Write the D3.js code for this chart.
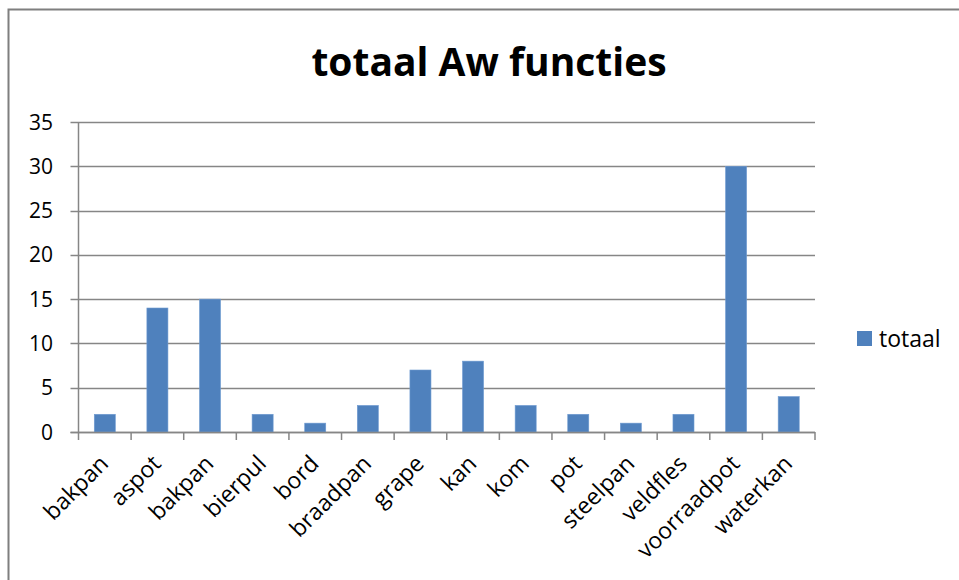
<!DOCTYPE html>
<html>
<head>
<meta charset="utf-8">
<script src="https://cdn.jsdelivr.net/npm/d3@7"></script>
<style>
  html, body { margin: 0; padding: 0; background: #fff; }
  svg { display: block; }
  text { font-family: "Open Sans", "Noto Sans", sans-serif; fill: #000; }
</style>
</head>
<body>
<svg id="chart" width="959" height="580"></svg>
<script>
const title = "totaal Aw functies";
const categories = ["bakpan", "aspot", "bakpan", "bierpul", "bord", "braadpan", "grape", "kan", "kom", "pot", "steelpan", "veldfles", "voorraadpot", "waterkan"];
const values = [2, 14, 15, 2, 1, 3, 7, 8, 3, 2, 1, 2, 30, 4];
const yTicks = [0, 5, 10, 15, 20, 25, 30, 35];
const seriesName = "totaal";

const svg = d3.select("#chart");
const plot = { left: 78.5, right: 815, top: 122, bottom: 432 };
const barColor = "#4F81BD";
const axisColor = "#868686";

// outer chart border
svg.append("rect")
  .attr("x", 8.5).attr("y", 9.5)
  .attr("width", 1000).attr("height", 1000)
  .attr("fill", "none").attr("stroke", "#7f7f7f").attr("stroke-width", 2);

const x = d3.scaleBand().domain(d3.range(categories.length))
  .range([plot.left, plot.right]).paddingInner(0).paddingOuter(0);
const y = d3.scaleLinear().domain([0, 35]).range([plot.bottom, plot.top]);

// gridlines
svg.append("g").selectAll("line").data(yTicks).join("line")
  .attr("x1", plot.left - 8).attr("x2", plot.right)
  .attr("y1", d => Math.round(y(d)) + 0.5).attr("y2", d => Math.round(y(d)) + 0.5)
  .attr("stroke", axisColor).attr("stroke-width", 1.3);

// y tick labels
svg.append("g").selectAll("text").data(yTicks).join("text")
  .attr("x", 53).attr("y", d => y(d))
  .attr("dy", "0.36em")
  .attr("text-anchor", "end")
  .style("font-size", "21px")
  .text(d => d);

// bars
const bw = x.bandwidth() / 2.5;
svg.append("g").selectAll("rect").data(values).join("rect")
  .attr("x", (d, i) => x(i) + x.bandwidth() / 2 - bw / 2)
  .attr("width", bw)
  .attr("y", d => y(d))
  .attr("height", d => y(0) - y(d))
  .attr("fill", barColor)
  .attr("stroke", "#6f9bd1").attr("stroke-width", 0.6);

// y axis line
svg.append("line")
  .attr("x1", plot.left).attr("x2", plot.left)
  .attr("y1", plot.top).attr("y2", plot.bottom + 0.5)
  .attr("stroke", axisColor).attr("stroke-width", 1.5);

// x axis line + ticks
svg.append("line")
  .attr("x1", plot.left - 8).attr("x2", plot.right)
  .attr("y1", plot.bottom + 0.5).attr("y2", plot.bottom + 0.5)
  .attr("stroke", axisColor).attr("stroke-width", 1.5);
const tickPos = d3.range(categories.length + 1).map(i => i < categories.length ? x(i) : plot.right);
svg.append("g").selectAll("line").data(tickPos).join("line")
  .attr("x1", d => d).attr("x2", d => d)
  .attr("y1", plot.bottom).attr("y2", plot.bottom + 8)
  .attr("stroke", axisColor).attr("stroke-width", 1.5);

// x labels rotated
svg.append("g").selectAll("text").data(categories).join("text")
  .attr("transform", (d, i) => `translate(${x(i) + x.bandwidth() / 2 + 5},${plot.bottom + 33}) rotate(-45)`)
  .attr("text-anchor", "end")
  .style("font-size", "23px")
  .text(d => d);

// title
const t = svg.append("text")
  .attr("x", 489).attr("y", 76)
  .attr("text-anchor", "middle")
  .style("font-size", "39px").style("font-weight", "bold")
  .text(title);
const tw = t.node().getComputedTextLength();
if (tw > 360) t.attr("textLength", 358).attr("lengthAdjust", "spacingAndGlyphs");

// legend
svg.append("rect").attr("x", 857).attr("y", 331).attr("width", 15).attr("height", 15).attr("fill", barColor);
svg.append("text").attr("x", 879).attr("y", 347).style("font-size", "23px").text(seriesName);
</script>
</body>
</html>
